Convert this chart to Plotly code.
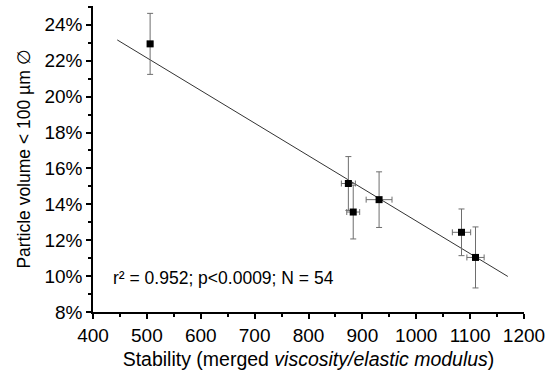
import plotly.graph_objects as go

# Data
stability = [506, 874, 883, 931, 1084, 1110]
stability_err = [5, 13, 12, 24, 17, 16]
particle_vol = [22.94, 15.16, 13.57, 14.26, 12.44, 11.04]
particle_err = [1.7, 1.5, 1.5, 1.55, 1.3, 1.7]

fit_x = [445, 1170]
fit_y = [23.16, 9.98]

x_ticks = [400, 500, 600, 700, 800, 900, 1000, 1100, 1200]
y_ticks = [8, 10, 12, 14, 16, 18, 20, 22, 24]

FONT = "Liberation Sans, Arial, sans-serif"

fig = go.Figure()
fig.add_trace(go.Scatter(
    x=fit_x, y=fit_y, mode="lines",
    line=dict(color="#333333", width=1), showlegend=False, hoverinfo="skip"))
fig.add_trace(go.Scatter(
    x=stability, y=particle_vol, mode="markers",
    marker=dict(symbol="square", size=7, color="black"),
    error_y=dict(type="data", array=particle_err, color="#6e6e6e", thickness=1, width=3),
    error_x=dict(type="data", array=stability_err, color="#6e6e6e", thickness=1, width=3),
    showlegend=False))

fig.add_annotation(x=433, y=9.87, xref="x", yref="y", xanchor="left", yanchor="middle",
                   text="r² = 0.952; p<0.0009; N = 54", showarrow=False,
                   font=dict(family=FONT, size=17.5, color="black"))

fig.update_layout(
    width=558, height=376,
    margin=dict(l=93, r=34, t=6, b=64),
    plot_bgcolor="white", paper_bgcolor="white",
    font=dict(family=FONT, size=19, color="black"),
    xaxis=dict(
        range=[400, 1200], tickvals=x_ticks, ticktext=[str(v) for v in x_ticks],
        automargin=False,
        showgrid=False, zeroline=False, showline=True, linecolor="black", linewidth=1.5,
        ticks="outside", ticklen=5, tickwidth=1.5, tickcolor="black",
        minor=dict(dtick=50, tick0=400, ticks="outside", ticklen=3, tickcolor="black", tickwidth=1.5, showgrid=False),
        title=dict(text="Stability (merged <i>viscosity/elastic modulus</i>)", standoff=8,
                   font=dict(size=19.5)),
        tickfont=dict(size=19),
    ),
    yaxis=dict(
        range=[8, 25.05], tickvals=y_ticks, ticktext=[f"{v}%" for v in y_ticks],
        automargin=False,
        showgrid=False, zeroline=False, showline=True, linecolor="black", linewidth=1.5,
        ticks="outside", ticklen=5, tickwidth=1.5, tickcolor="black",
        minor=dict(dtick=1, tick0=8, ticks="outside", ticklen=3, tickcolor="black", tickwidth=1.5, showgrid=False),
        title=dict(text="Particle volume < 100 µm ∅", standoff=9, font=dict(size=17.5)),
        tickfont=dict(size=19),
    ),
)

fig.write_html("out.html", config={"displayModeBar": False},
               post_script="document.body.style.margin='0px';")
